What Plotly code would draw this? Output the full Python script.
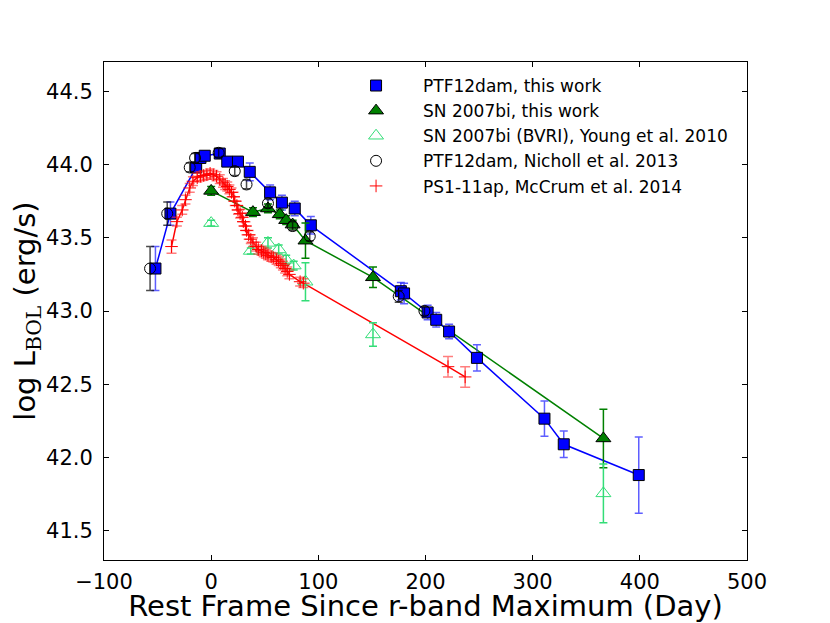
import plotly.graph_objects as go

# PTF12dam, this work
ptf_x = [-52, -38, -14, -10, -6, 8, 15, 25, 36, 55, 66, 78, 93, 177, 180, 202, 210, 222, 248, 311, 329, 399]
ptf_y = [43.29, 43.665, 43.98, 44.045, 44.06, 44.075, 44.02, 44.02, 43.95, 43.81, 43.74, 43.70, 43.585,
         43.135, 43.12, 42.99, 42.94, 42.86, 42.68, 42.265, 42.09, 41.88]
ptf_e = [0.15, 0.08, 0.03, 0.03, 0.03, 0.03, 0.03, 0.03, 0.06, 0.05, 0.05, 0.05, 0.06,
         0.06, 0.07, 0.05, 0.05, 0.05, 0.09, 0.12, 0.09, 0.26]

# SN 2007bi, this work
sn_x = [0, 39, 53, 64, 70, 76, 88, 151, 366]
sn_y = [43.82, 43.675, 43.70, 43.66, 43.62, 43.59, 43.48, 43.23, 42.13]
sn_e = [0.03, 0.03, 0.03, 0.03, 0.03, 0.03, 0.12, 0.07, 0.20]

# SN 2007bi (BVRI), Young et al. 2010
bvri_x = [0, 37, 53, 63, 70, 77, 88, 151, 366]
bvri_y = [43.60, 43.41, 43.465, 43.42, 43.35, 43.31, 43.20, 42.84, 41.755]
bvri_e = [0.02, 0.02, 0.035, 0.03, 0.03, 0.03, 0.13, 0.08, 0.20]

# PTF12dam, Nicholl et al. 2013
nich_x = [-57, -41, -20, -15, 7, 22, 33, 53, 76, 92, 175, 199]
nich_y = [43.29, 43.665, 43.98, 44.045, 44.08, 43.955, 43.864, 43.735, 43.58, 43.51, 43.10, 43.00]
nich_e = [0.15, 0.08, 0.03, 0.03, 0.03, 0.03, 0.03, 0.03, 0.03, 0.03, 0.04, 0.03]

# PS1-11ap, McCrum et al. 2014
ps_x = [-37, -32, -27, -24, -20, -17, -13, -10, -7, -4, -1, 2, 5, 8, 11, 13, 15, 17, 19, 21,
        22, 24, 25, 27, 29, 30, 32, 33, 35, 37, 39, 42, 44, 47, 49, 51, 53, 56, 58, 61, 63,
        65, 67, 69, 71, 73, 83, 86, 221, 237]
ps_y = [43.44, 43.61, 43.69, 43.76, 43.84, 43.886, 43.91, 43.92, 43.925, 43.93, 43.94, 43.93, 43.92,
        43.90, 43.875, 43.86, 43.85, 43.83, 43.81, 43.78, 43.75, 43.72, 43.69, 43.665, 43.64,
        43.61, 43.58, 43.55, 43.52, 43.49, 43.47, 43.44, 43.42, 43.41, 43.40, 43.39, 43.38,
        43.37, 43.365, 43.35, 43.34, 43.325, 43.31, 43.29, 43.27, 43.25, 43.20, 43.19, 42.62, 42.55]
ps_e = [0.045] + [0.03] * 47 + [0.07, 0.07]

BLUE = "#0000ff"
GREEN = "#008000"
LGREEN = "#33dd77"
RED = "#ff0000"

fig = go.Figure()

# connecting lines (not in legend)
fig.add_trace(go.Scatter(x=ps_x, y=ps_y, mode="lines", line=dict(color=RED, width=1.5),
                         showlegend=False, hoverinfo="skip"))
fig.add_trace(go.Scatter(x=sn_x, y=sn_y, mode="lines", line=dict(color=GREEN, width=1.5),
                         showlegend=False, hoverinfo="skip"))
fig.add_trace(go.Scatter(x=ptf_x, y=ptf_y, mode="lines", line=dict(color=BLUE, width=1.5),
                         showlegend=False, hoverinfo="skip"))

# markers with error bars
fig.add_trace(go.Scatter(
    x=ptf_x, y=ptf_y, mode="markers", name="PTF12dam, this work",
    marker=dict(symbol="square", size=11, color=BLUE, line=dict(color="black", width=1)),
    error_y=dict(type="data", array=ptf_e, color="rgba(40,40,255,0.75)", thickness=1.5, width=4)))
fig.add_trace(go.Scatter(
    x=sn_x, y=sn_y, mode="markers", name="SN 2007bi, this work",
    marker=dict(symbol="triangle-up", size=13, color=GREEN, line=dict(color="black", width=1)),
    error_y=dict(type="data", array=sn_e, color=GREEN, thickness=1.5, width=4)))
fig.add_trace(go.Scatter(
    x=bvri_x, y=bvri_y, mode="markers", name="SN 2007bi (BVRI), Young et al. 2010",
    marker=dict(symbol="triangle-up-open", size=13, color=LGREEN, line=dict(color=LGREEN, width=1)),
    error_y=dict(type="data", array=bvri_e, color=LGREEN, thickness=1.5, width=4)))
fig.add_trace(go.Scatter(
    x=nich_x, y=nich_y, mode="markers", name="PTF12dam, Nicholl et al. 2013",
    marker=dict(symbol="circle-open", size=11, color="black", line=dict(color="black", width=1)),
    error_y=dict(type="data", array=nich_e, color="rgba(0,0,0,0.7)", thickness=1.5, width=4)))
fig.add_trace(go.Scatter(
    x=ps_x, y=ps_y, mode="markers", name="PS1-11ap, McCrum et al. 2014",
    marker=dict(symbol="cross-thin", size=9, color=RED, line=dict(color=RED, width=1)),
    error_y=dict(type="data", array=ps_e, color="rgba(255,40,40,0.6)", thickness=1.5, width=5)))

FONT = "DejaVu Sans"
axis_common = dict(
    showgrid=False, zeroline=False, showline=True, linecolor="black", linewidth=1,
    mirror="ticks", ticks="inside", ticklen=5, tickwidth=1, tickcolor="black",
    tickfont=dict(family=FONT, size=21, color="black"), automargin=False,
)

fig.update_layout(
    width=822, height=615,
    paper_bgcolor="white", plot_bgcolor="white",
    margin=dict(l=96, r=83, t=54, b=63),
    font=dict(family=FONT, color="black"),
    xaxis=dict(range=[-100, 500], tickvals=[-100, 0, 100, 200, 300, 400, 500],
               ticktext=["\u2212100", "0", "100", "200", "300", "400", "500"],
               title=dict(text="Rest Frame Since r-band Maximum (Day)",
                          font=dict(family=FONT, size=29), standoff=4),
               ticklabelstandoff=3, **axis_common),
    yaxis=dict(range=[41.3, 44.7], tickvals=[41.5, 42.0, 42.5, 43.0, 43.5, 44.0, 44.5],
               ticktext=["41.5", "42.0", "42.5", "43.0", "43.5", "44.0", "44.5"],
               title=dict(text="log L<sub><span style='font-family:DejaVu Serif'>BOL</span></sub> (erg/s)",
                          font=dict(family=FONT, size=29), standoff=2),
               ticklabelstandoff=6, **axis_common),
    legend=dict(x=0.350, y=0.988, xanchor="left", yanchor="top",
                bgcolor="rgba(0,0,0,0)", borderwidth=0,
                font=dict(family=FONT, size=17, color="black"),
                itemwidth=84, tracegroupgap=0),
    showlegend=True,
)

fig.write_html("out.html")
